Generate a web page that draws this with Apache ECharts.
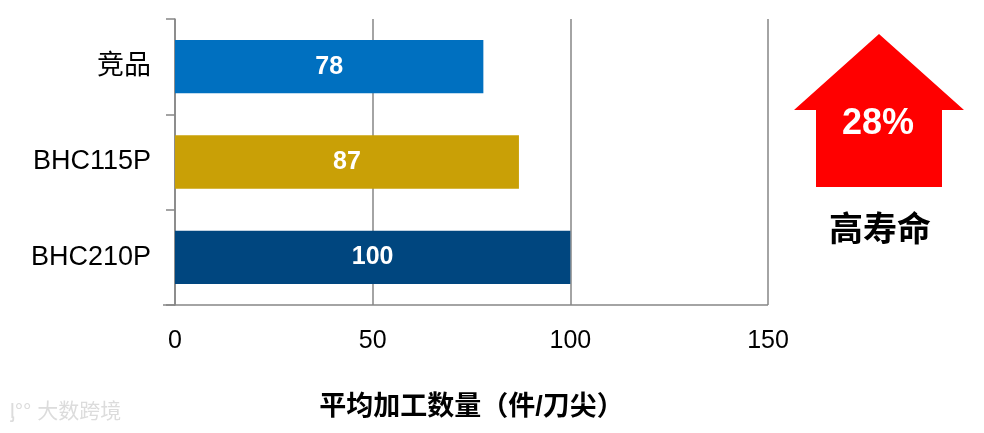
<!DOCTYPE html>
<html>
<head>
<meta charset="utf-8">
<script src="https://cdn.jsdelivr.net/npm/echarts@6/dist/echarts.min.js"></script>
<style>html,body{margin:0;padding:0;background:#fff;}#c{width:984px;height:433px;}</style>
</head>
<body>
<div id="c"></div>
<script>
const categories = ['竞品', 'BHC115P', 'BHC210P'];
const values = [78, 87, 100];
const barColors = ['#0070C0', '#C9A006', '#00467F'];
const xTicks = [0, 50, 100, 150];
const axisName = '平均加工数量（件/刀尖）';
const badgeText = '28%';
const badgeLabel = '高寿命';

const chart = echarts.init(document.getElementById('c'), null, {renderer: 'canvas'});
const font = '"Liberation Sans", Arial, "Noto Sans CJK SC", sans-serif';
chart.setOption({
  animation: false,
  grid: {left: 175, right: 216, top: 19, bottom: 128, containLabel: false},
  xAxis: {
    type: 'value', min: xTicks[0], max: xTicks[xTicks.length - 1], interval: 50,
    name: axisName, nameLocation: 'middle', nameGap: 89,
    nameTextStyle: {fontFamily: font, fontSize: 27, fontWeight: 'bold', color: '#000'},
    axisLine: {show: false},
    axisTick: {show: false},
    axisLabel: {fontFamily: font, fontSize: 25, color: '#000', margin: 24},
    splitLine: {show: true, lineStyle: {color: '#868686', width: 1.5}}
  },
  yAxis: {
    type: 'category', data: categories, inverse: true,
    axisLine: {show: true, lineStyle: {color: '#868686', width: 1.5}},
    axisTick: {show: true, length: 9, inside: false, lineStyle: {color: '#868686', width: 1.5}},
    axisLabel: {fontFamily: font, fontSize: 27, color: '#000', margin: 24, padding: [4, 0, 0, 0]},
    splitLine: {show: false}
  },
  series: [{
    type: 'bar',
    data: values.map((v, i) => ({value: v, itemStyle: {color: barColors[i]}})),
    barWidth: '56%',
    label: {show: true, position: 'inside', color: '#fff', fontFamily: font, fontSize: 25, fontWeight: 'bold', padding: [3, 0, 0, 0]}
  }],
  graphic: [
    {type: 'line', shape: {x1: 163, y1: 305, x2: 768, y2: 305}, style: {stroke: '#868686', lineWidth: 1.5}, z: 10},
    {type: 'polygon', shape: {points: [[879, 34], [964, 110], [942, 110], [942, 187], [816, 187], [816, 110], [794, 110]]}, style: {fill: '#FF0000'}},
    {type: 'text', x: 878, y: 124, style: {text: badgeText, fill: '#fff', font: 'bold 36px ' + font, textAlign: 'center', textVerticalAlign: 'middle'}},
    {type: 'text', x: 880, y: 232, style: {text: badgeLabel, fill: '#000', font: 'bold 34px ' + font, textAlign: 'center', textVerticalAlign: 'middle'}},
    {type: 'text', x: 10, y: 412, style: {text: 'ᶅ°° 大数跨境', fill: '#dcdcdc', font: '21px ' + font, textVerticalAlign: 'middle'}}
  ]
});
</script>
</body>
</html>
